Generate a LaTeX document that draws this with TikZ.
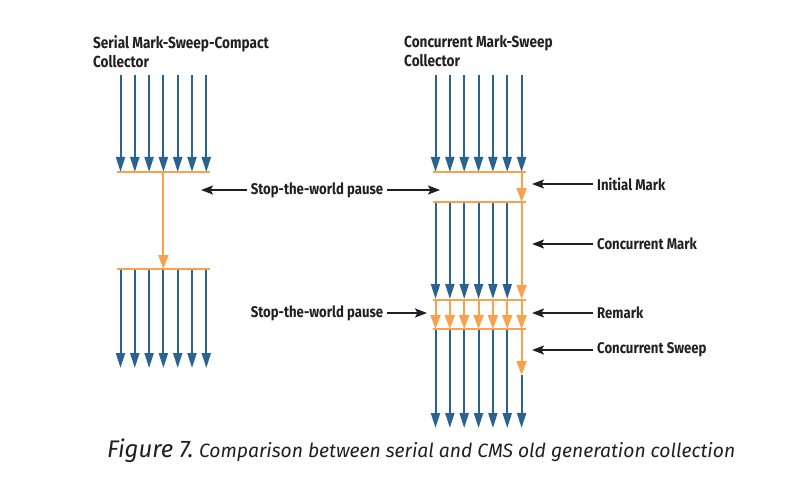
\documentclass[tikz,border=0pt]{standalone}
\usepackage{fontspec}
\setmainfont{Fira Sans}
\newfontfamily\lblfont{Fira Sans}[FakeStretch=0.85]
\usetikzlibrary{arrows.meta,positioning}
\definecolor{Steel}{HTML}{2A6392}
\definecolor{Amber}{HTML}{F9A24E}
\definecolor{Ink}{HTML}{231F20}

\begin{document}
\begin{tikzpicture}[x=1pt,y=-1pt,
    thread/.style={-{Triangle[length=15pt,width=9pt]},line width=2pt,color=Steel},
    pause/.style={-{Triangle[length=14pt,width=10pt]},line width=2pt,color=Amber},
    bar/.style={line width=1.6pt,color=Amber},
    lbl/.style={font=\lblfont\bfseries\fontsize{15.5}{18}\selectfont,text=Ink,inner sep=4pt},
    head/.style={font=\lblfont\bfseries\fontsize{16}{19}\selectfont,text=Ink,
      align=left,anchor=north west,inner sep=0pt},
    ptr/.style={-{Stealth[length=12pt,width=9pt,inset=2.5pt]},line width=1.8pt,color=Ink}
  ]
    \useasboundingbox (0,0) rectangle (791,489);
    % titles
    \node[head] (serial) at (93,35) {Serial Mark-Sweep-Compact\\Collector};
    \node[head] (cms) at (404,35) {Concurrent Mark-Sweep\\Collector};
    % serial collector
    \foreach \i in {0,...,6} {
      \draw[thread] (120.5+14.3*\i,75) -- (120.5+14.3*\i,172);
      \draw[thread] (120.5+14.3*\i,269) -- (120.5+14.3*\i,368);
    }
    \draw[bar] (117,172) -- (210,172);
    \draw[pause] (163.4,172) -- (163.4,269);
    \draw[bar] (117,269) -- (210,269);
    % concurrent collector
    \foreach \i in {0,...,6} {
      \draw[thread] (435.5+14.35*\i,75) -- (435.5+14.35*\i,172);
      \draw[pause] (435.5+14.35*\i,300) -- (435.5+14.35*\i,329);
    }
    \foreach \i in {0,...,5} {
      \draw[thread] (435.5+14.35*\i,202) -- (435.5+14.35*\i,299);
      \draw[thread] (435.5+14.35*\i,329) -- (435.5+14.35*\i,428);
    }
    \draw[pause] (521.6,172) -- (521.6,202);
    \draw[pause] (521.6,202) -- (521.6,299);
    \draw[pause] (521.6,329) -- (521.6,375);
    \draw[thread] (521.6,375) -- (521.6,428);
    \foreach \y in {172,202,300,329}
      \draw[bar] (433,\y) -- (526,\y);
    % pause labels
    \node[lbl] (swpA) at (317,190) {Stop-the-world pause};
    \node[lbl] (swpB) at (317,313) {Stop-the-world pause};
    \coordinate (swpAl) at (201,190);
    \coordinate (swpAr) at (440,190);
    \coordinate (swpBr) at (427,313);
    \draw[ptr] (swpA.west) -- (swpAl);
    \draw[ptr] (swpA.east) -- (swpAr);
    \draw[ptr] (swpB.east) -- (swpBr);
    % phase labels
    \node[lbl,anchor=west] (initm) at (593,184) {Initial Mark};
    \node[lbl,anchor=west] (concm) at (593,244) {Concurrent Mark};
    \node[lbl,anchor=west] (remark) at (593,313) {Remark};
    \node[lbl,anchor=west] (concs) at (593,350) {Concurrent Sweep};
    \foreach \n in {initm,concm,remark,concs}
      \draw[ptr] (\n.west) -- ([xshift=-61pt]\n.west);
    % caption
    \node[anchor=base west,inner sep=0pt,text=Ink,font=\itshape] (cap) at (107,457)
      {{\fontsize{24}{28}\selectfont Figure 7.}\hspace{2pt} {\fontsize{19.3}{22}\selectfont Comparison between serial and CMS old generation collection}};
  \end{tikzpicture}
\end{document}
